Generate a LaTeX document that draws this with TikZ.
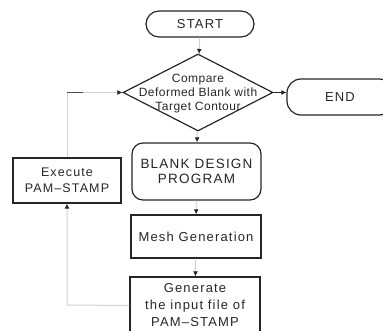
\documentclass[tikz,border=0pt]{standalone}
\usepackage{fontspec}
\setmainfont{Liberation Sans}[LetterSpace=9]
\usetikzlibrary{shapes.geometric,shapes.misc,arrows.meta}
\begin{document}
\begin{tikzpicture}[x=1pt,y=-1pt,
  every node/.style={font=\fontsize{13}{15}\selectfont, inner sep=0pt, align=center, text=black!85},
  box/.style={draw=black!85, line width=1.2pt, rectangle},
  rbox/.style={box, rounded corners=11pt},
  term/.style={box, rounded corners=13pt},
  faint/.style={draw=black!18, line width=1pt, -{Latex[length=5pt,width=5pt,color=black!85]}},
  solidarrow/.style={draw=black!85, line width=1.2pt, -{Latex[length=5pt,width=5pt]}}
]
\useasboundingbox (0,0) rectangle (383,331);
\clip (0,0) rectangle (383,331);

\node[term, minimum width=108pt, minimum height=26pt] (start) at (200,24) {START};
\node[box, diamond, minimum width=150pt, minimum height=77pt, aspect=1.95] (cmp) at (198,92.5) {};
\node[font=\fontsize{12}{14}\selectfont\addfontfeature{LetterSpace=4}] (cmptext) at (198,94) {Compare\\Deformed Blank with\\Target Contour};
\node[term, rounded corners=14pt, minimum width=106pt, minimum height=36pt] (end) at (340,97) {END};
\node[rbox, minimum width=129pt, minimum height=57pt, font=\fontsize{13.5}{15}\selectfont] (blank) at (196.5,171.5) {BLANK DESIGN\\PROGRAM};
\node[box, minimum width=108pt, minimum height=45pt, font=\fontsize{12.5}{16}\selectfont] (exec) at (67,180.5) {Execute\\PAM--STAMP};
\node[box, minimum width=130pt, minimum height=43pt] (mesh) at (196,236.5) {Mesh Generation};
\node[box, minimum width=130pt, minimum height=57pt, font=\fontsize{13}{17}\selectfont] (gen) at (195,305.5) {Generate\\the input file of\\PAM--STAMP};

\coordinate (genleft) at (67,305);
\coordinate (execup) at (67,92.5);

\draw[faint] (start) -- (cmp);
\draw[solidarrow] (cmp.east) -- (cmp.east -| end.west);
\draw[faint] (cmp) -- (blank);
\draw[faint] (blank) -- (mesh);
\draw[faint] (mesh) -- (gen);
\draw[faint] (gen.west) -- (genleft) -- (exec.south);
\draw[faint] (exec.north) -- (execup) -- (cmp.west);
\draw[draw=black!70, line width=1pt] (execup) -- (83,92.5);
\end{tikzpicture}
\end{document}
